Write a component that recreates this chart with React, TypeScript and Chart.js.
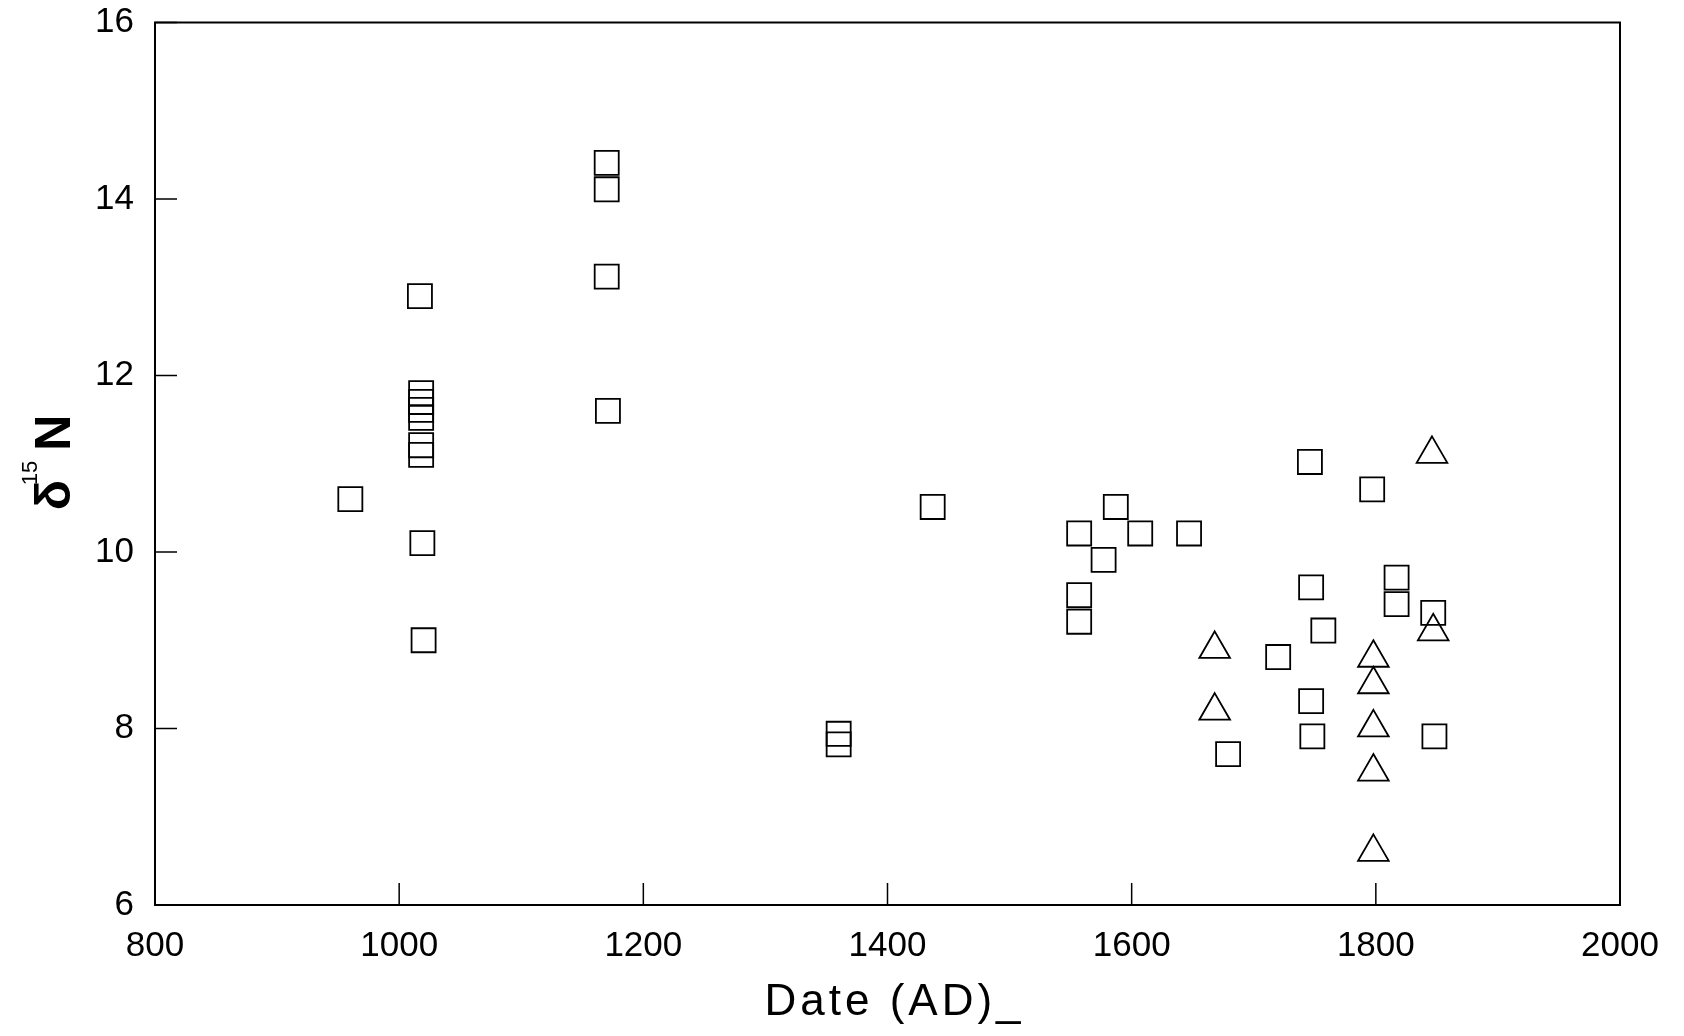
import React, { useEffect, useRef } from "react";
import { Chart, registerables } from "chart.js";

Chart.register(...registerables);

// Squares (date AD, delta 15N)
const squareDates = [
  960, 1017, 1018, 1018, 1018, 1018, 1018, 1018, 1019, 1020,
  1170, 1170, 1170, 1171, 1360, 1360, 1437,
  1557, 1557, 1557, 1577, 1587, 1607, 1647, 1679, 1720,
  1746, 1747, 1747, 1748, 1757, 1797, 1817, 1817, 1847, 1848,
];
const squareValues = [
  10.6, 12.9, 11.8, 11.7, 11.61, 11.52, 11.21, 11.1, 10.1, 9.0,
  14.41, 14.11, 13.12, 11.6, 7.94, 7.82, 10.51,
  10.21, 9.51, 9.21, 9.91, 10.51, 10.21, 10.21, 7.71, 8.81,
  11.02, 9.6, 8.31, 7.91, 9.11, 10.71, 9.71, 9.41, 9.31, 7.91,
];

// Triangles (date AD, delta 15N)
const triangleDates = [1668, 1668, 1798, 1798, 1798, 1798, 1798, 1846, 1847];
const triangleValues = [8.9, 8.2, 8.8, 8.5, 8.01, 7.51, 6.6, 11.11, 9.1];

const xTickValues = [800, 1000, 1200, 1400, 1600, 1800, 2000];
const yTickValues = [6, 8, 10, 12, 14, 16];

const xTitle = "Date (AD)_";
const yTitleMain = "δ";
const yTitleSup = "15";
const yTitleEnd = "N";

const FONT = '"Liberation Sans", Arial, Helvetica, sans-serif';

const framePlugin = {
  id: "frameAndTicks",
  afterDraw(chart: any) {
    const { ctx, chartArea, scales } = chart;
    const { left, right, top, bottom } = chartArea;
    ctx.save();
    ctx.strokeStyle = "#000";
    ctx.lineWidth = 2;
    ctx.strokeRect(left, top, right - left, bottom - top);
    ctx.lineWidth = 1.5;
    const tl = 22;
    ctx.beginPath();
    for (const v of yTickValues) {
      const y = scales.y.getPixelForValue(v);
      ctx.moveTo(left, y);
      ctx.lineTo(left + tl, y);
    }
    for (const v of xTickValues) {
      const x = scales.x.getPixelForValue(v);
      ctx.moveTo(x, bottom);
      ctx.lineTo(x, bottom - tl);
    }
    ctx.stroke();

    // x-axis title
    ctx.fillStyle = "#000";
    ctx.font = `44px ${FONT}`;
    try {
      (ctx as any).letterSpacing = "4px";
    } catch (e) {}
    ctx.textAlign = "left";
    ctx.textBaseline = "alphabetic";
    const cx = (left + right) / 2;
    ctx.fillText(xTitle, cx - 123, 1007);
    try {
      (ctx as any).letterSpacing = "0px";
    } catch (e) {}

    // y-axis title with superscript
    const cy = (top + bottom) / 2;
    ctx.translate(62, cy + 46.5);
    ctx.rotate(-Math.PI / 2);
    ctx.textAlign = "left";
    ctx.textBaseline = "alphabetic";
    ctx.font = `bold 50px ${FONT}`;
    ctx.fillText(yTitleMain, 0, 0);
    ctx.font = `22px ${FONT}`;
    ctx.fillText(yTitleSup, 25, -33);
    ctx.font = `bold 50px ${FONT}`;
    ctx.fillText(yTitleEnd, 59.5, 0);
    ctx.restore();
  },
};

export default function App() {
  const canvasRef = useRef<HTMLCanvasElement | null>(null);

  useEffect(() => {
    if (!canvasRef.current) return;
    const squares = squareDates.map((x, i) => ({ x, y: squareValues[i] }));
    const triangles = triangleDates.map((x, i) => ({ x, y: triangleValues[i] }));
    const chart = new Chart(canvasRef.current, {
      type: "scatter",
      data: {
        datasets: [
          {
            label: "squares",
            data: squares,
            pointStyle: "rect",
            pointRadius: 17,
            pointBorderWidth: 1.8,
            borderColor: "#000",
            backgroundColor: "rgba(0,0,0,0)",
            pointBackgroundColor: "rgba(0,0,0,0)",
            pointBorderColor: "#000",
          },
          {
            label: "triangles",
            data: triangles,
            pointStyle: "triangle",
            pointRadius: 17.7,
            pointBorderWidth: 1.8,
            borderColor: "#000",
            backgroundColor: "rgba(0,0,0,0)",
            pointBackgroundColor: "rgba(0,0,0,0)",
            pointBorderColor: "#000",
          },
        ],
      },
      options: {
        responsive: false,
        animation: false,
        devicePixelRatio: 1,
        layout: {
          autoPadding: false,
          padding: { top: 14.5, right: 56, left: 0, bottom: 0 },
        },
        plugins: {
          legend: { display: false },
          tooltip: { enabled: false },
        },
        scales: {
          x: {
            type: "linear",
            min: 800,
            max: 2000,
            afterFit: (s: any) => {
              s.height = 123;
              s.paddingLeft = 0;
              s.paddingRight = 0;
            },
            afterBuildTicks: (s: any) => {
              s.ticks = xTickValues.map((v) => ({ value: v }));
            },
            grid: { display: false, drawTicks: false },
            border: { display: false },
            ticks: {
              color: "#000",
              padding: 20,
              maxRotation: 0,
              autoSkip: false,
              callback: (v: any) => String(v),
              font: { family: FONT, size: 35, lineHeight: 1.2 },
            },
          },
          y: {
            type: "linear",
            min: 6,
            max: 16,
            afterFit: (s: any) => {
              s.width = 147;
              s.paddingTop = 0;
              s.paddingBottom = 0;
            },
            afterBuildTicks: (s: any) => {
              s.ticks = yTickValues.map((v) => ({ value: v }));
            },
            grid: { display: false, drawTicks: false },
            border: { display: false },
            ticks: {
              color: "#000",
              padding: 21,
              autoSkip: false,
              callback: (v: any) => String(v),
              font: { family: FONT, size: 35, lineHeight: 0.6 },
            },
          },
        },
      },
      plugins: [framePlugin],
    });
    return () => chart.destroy();
  }, []);

  return (
    <div style={{ width: 1668, height: 1020 }}>
      <canvas
        ref={canvasRef}
        width={1668}
        height={1020}
        style={{ display: "block", width: 1668, height: 1020 }}
      />
    </div>
  );
}
